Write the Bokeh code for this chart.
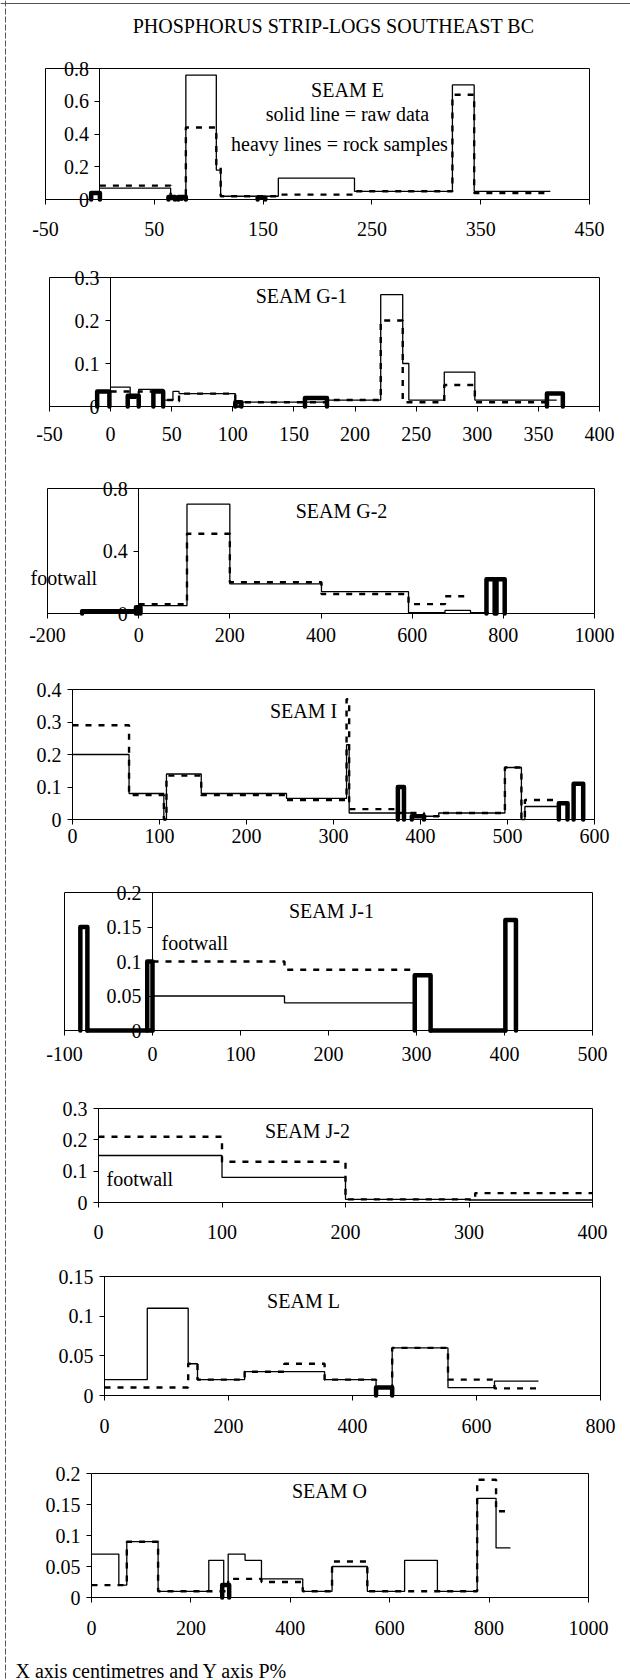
from bokeh.plotting import figure
from bokeh.models import (Range1d, FixedTicker, CustomJSTickFormatter, Label,
                          Span, LinearAxis)
from bokeh.embed import file_html
from bokeh.resources import INLINE

FONT = "Liberation Serif"

# ---------------- DATA ----------------
# step logs: edges (cm) and values (P%) ; dashed = adjusted log ; heavy = rock samples
E_raw_edges = [0, 65, 79, 107, 111, 164, 234, 324, 344, 414]
E_raw_vals = [0.07, 0.0, 0.76, 0.18, 0.02, 0.13, 0.05, 0.70, 0.05]
E_dash_edges = [0, 65, 79, 107, 111, 164, 234, 324, 344, 414]
E_dash_vals = [0.085, 0.0, 0.44, 0.2, 0.02, 0.03, 0.05, 0.64, 0.04]
E_rock_from = [-8, 63, 72, 145]
E_rock_to = [0, 69, 79, 152]
E_rock_p = [0.04, 0.015, 0.015, 0.01]

G1_raw_edges = [0, 16, 23, 43, 51, 56, 102, 107, 177, 221, 239, 244, 273, 298, 365]
G1_raw_vals = [0.045, 0.02, 0.04, 0.015, 0.035, 0.03, 0.0, 0.01, 0.015, 0.26, 0.10, 0.015, 0.08, 0.015]
G1_dash_edges = [0, 16, 23, 43, 51, 56, 102, 107, 177, 221, 239, 273, 298, 362]
G1_dash_vals = [0.035, 0.02, 0.035, 0.015, 0.012, 0.03, 0.0, 0.01, 0.015, 0.20, 0.01, 0.05, 0.01]
G1_rock_from = [-11, 14, 35, 102, 159, 357]
G1_rock_to = [-1, 23, 43, 107, 177, 370]
G1_rock_p = [0.035, 0.025, 0.035, 0.01, 0.02, 0.03]

G2_raw_edges = [0, 106, 200, 401, 592, 672, 728, 768]
G2_raw_vals = [0.05, 0.70, 0.19, 0.14, 0.005, 0.02, 0.005]
G2_dash_edges = [0, 106, 200, 401, 592, 672, 728]
G2_dash_vals = [0.06, 0.51, 0.2, 0.125, 0.06, 0.11]
G2_rock_from = [-124, -6, 763, 785]
G2_rock_to = [-2, 4, 781, 803]
G2_rock_p = [0.015, 0.04, 0.22, 0.22]

I_raw_edges = [0, 65, 105, 108, 148, 246, 315, 318, 391, 421, 497, 516, 520, 560]
I_raw_vals = [0.2, 0.08, 0.0, 0.14, 0.08, 0.065, 0.23, 0.02, 0.01, 0.02, 0.16, 0.0, 0.04]
I_dash_edges = [0, 65, 105, 108, 148, 246, 315, 318, 374, 404, 421, 497, 516, 520, 555]
I_dash_vals = [0.29, 0.075, 0.0, 0.135, 0.075, 0.06, 0.37, 0.032, 0.02, 0.01, 0.02, 0.16, 0.0, 0.06]
I_rock_from = [374, 390, 559, 576]
I_rock_to = [381, 404, 569, 587]
I_rock_p = [0.10, 0.01, 0.05, 0.11]

J1_raw_edges = [0, 150, 297]
J1_raw_vals = [0.05, 0.04]
J1_dash_edges = [0, 150, 297]
J1_dash_vals = [0.1, 0.088]
J1_rock_from = [-82, -74, -6, 298, 316, 401]
J1_rock_to = [-74, 0, 0, 316, 401, 413]
J1_rock_p = [0.15, 0.0, 0.10, 0.08, 0.0, 0.16]

J2_raw_edges = [0, 100, 200, 300, 400]
J2_raw_vals = [0.15, 0.08, 0.01, 0.008]
J2_dash_edges = [0, 100, 200, 305, 400]
J2_dash_vals = [0.21, 0.13, 0.01, 0.03]

L_raw_edges = [0, 69, 135, 150, 226, 355, 438, 464, 554, 629, 700]
L_raw_vals = [0.02, 0.11, 0.04, 0.02, 0.03, 0.02, 0.01, 0.06, 0.01, 0.018]
L_dash_edges = [0, 135, 150, 226, 290, 355, 438, 464, 554, 629, 700]
L_dash_vals = [0.01, 0.04, 0.02, 0.03, 0.04, 0.02, 0.01, 0.06, 0.02, 0.009]
L_rock_from = [438]
L_rock_to = [464]
L_rock_p = [0.01]

O_raw_edges = [0, 55, 71, 134, 236, 266, 275, 309, 342, 425, 484, 555, 630, 696, 776, 814, 843]
O_raw_vals = [0.07, 0.02, 0.09, 0.01, 0.06, 0.02, 0.07, 0.06, 0.03, 0.01, 0.05, 0.01, 0.06, 0.01, 0.16, 0.08]
O_dash_edges = [0, 71, 134, 275, 342, 425, 484, 555, 776, 814, 843]
O_dash_vals = [0.02, 0.09, 0.01, 0.03, 0.025, 0.01, 0.058, 0.01, 0.19, 0.139]
O_rock_from = [263]
O_rock_to = [277]
O_rock_p = [0.02]

# axis ticks
E_xticks = [-50, 50, 150, 250, 350, 450]
E_yticks = [0, 0.2, 0.4, 0.6, 0.8]
G1_xticks = [-50, 0, 50, 100, 150, 200, 250, 300, 350, 400]
G1_yticks = [0, 0.1, 0.2, 0.3]
G2_xticks = [-200, 0, 200, 400, 600, 800, 1000]
G2_yticks = [0, 0.4, 0.8]
I_xticks = [0, 100, 200, 300, 400, 500, 600]
I_yticks = [0, 0.1, 0.2, 0.3, 0.4]
J1_xticks = [-100, 0, 100, 200, 300, 400, 500]
J1_yticks = [0, 0.05, 0.1, 0.15, 0.2]
J2_xticks = [0, 100, 200, 300, 400]
J2_yticks = [0, 0.1, 0.2, 0.3]
L_xticks = [0, 200, 400, 600, 800]
L_yticks = [0, 0.05, 0.1, 0.15]
O_xticks = [0, 200, 400, 600, 800, 1000]
O_yticks = [0, 0.05, 0.1, 0.15, 0.2]

TITLE = "PHOSPHORUS STRIP-LOGS SOUTHEAST BC"
FOOTNOTE = "X axis centimetres and Y axis P%"

# ---------------- LAYOUT (page pixel geometry of each panel) ----------------
W, H = 630, 1680
panels = [
    dict(key="E", frame=(45, 589, 68, 199), xr=(-50, 450), ymax=0.8,
         xt=E_xticks, yt=E_yticks, so=17,
         raw=(E_raw_edges, E_raw_vals), dash=(E_dash_edges, E_dash_vals),
         rock=(E_rock_from, E_rock_to, E_rock_p),
         labels=[("SEAM E", 347, 89, "center"), ("solid line = raw data", 347, 113, "center"),
                 ("heavy lines = rock samples", 339, 143, "center")]),
    dict(key="G1", frame=(49, 599, 277, 406), xr=(-50, 400), ymax=0.3,
         xt=G1_xticks, yt=G1_yticks, so=15,
         raw=(G1_raw_edges, G1_raw_vals), dash=(G1_dash_edges, G1_dash_vals),
         rock=(G1_rock_from, G1_rock_to, G1_rock_p),
         labels=[("SEAM G-1", 301, 295, "center")]),
    dict(key="G2", frame=(47, 594, 488, 613), xr=(-200, 1000), ymax=0.8,
         xt=G2_xticks, yt=G2_yticks, so=9,
         raw=(G2_raw_edges, G2_raw_vals), dash=(G2_dash_edges, G2_dash_vals),
         rock=(G2_rock_from, G2_rock_to, G2_rock_p),
         labels=[("SEAM G-2", 341, 510, "center"), ("footwall", 30, 577, "left")]),
    dict(key="I", frame=(72, 594, 689, 819), xr=(0, 600), ymax=0.4,
         xt=I_xticks, yt=I_yticks, so=4,
         raw=(I_raw_edges, I_raw_vals), dash=(I_dash_edges, I_dash_vals),
         rock=(I_rock_from, I_rock_to, I_rock_p),
         labels=[("SEAM I", 303, 710, "center")]),
    dict(key="J1", frame=(64, 592, 892, 1030), xr=(-100, 500), ymax=0.2,
         xt=J1_xticks, yt=J1_yticks, so=11,
         raw=(J1_raw_edges, J1_raw_vals), dash=(J1_dash_edges, J1_dash_vals),
         rock=(J1_rock_from, J1_rock_to, J1_rock_p),
         labels=[("SEAM J-1", 331, 910, "center"), ("footwall", 161, 942, "left")]),
    dict(key="J2", frame=(98, 592, 1108, 1202), xr=(0, 400), ymax=0.3,
         xt=J2_xticks, yt=J2_yticks, so=17,
         raw=(J2_raw_edges, J2_raw_vals), dash=(J2_dash_edges, J2_dash_vals),
         rock=None,
         labels=[("SEAM J-2", 307, 1130, "center"), ("footwall", 106, 1178, "left")]),
    dict(key="L", frame=(104, 600, 1276, 1395), xr=(0, 800), ymax=0.15,
         xt=L_xticks, yt=L_yticks, so=18,
         raw=(L_raw_edges, L_raw_vals), dash=(L_dash_edges, L_dash_vals),
         rock=(L_rock_from, L_rock_to, L_rock_p),
         labels=[("SEAM L", 303, 1300, "center")]),
    dict(key="O", frame=(91, 588, 1473, 1597), xr=(0, 1000), ymax=0.2,
         xt=O_xticks, yt=O_yticks, so=18,
         raw=(O_raw_edges, O_raw_vals), dash=(O_dash_edges, O_dash_vals),
         rock=(O_rock_from, O_rock_to, O_rock_p),
         labels=[("SEAM O", 329, 1490, "center")]),
]

fmt_code = "return String(Math.round(tick*1000)/1000);"

# one page-sized figure; default ranges are page pixels (y downwards)
p = figure(width=W, height=H, x_range=Range1d(0, W), y_range=Range1d(H, 0),
           output_backend="svg", toolbar_location=None,
           x_axis_location=None, y_axis_location=None, min_border=0,
           min_border_left=0, min_border_right=0, min_border_top=0, min_border_bottom=0,
           background_fill_color="white", border_fill_color="white",
           outline_line_color=None)
p.grid.visible = False

extra_x, extra_y = {}, {}
for c in panels:
    fl, fr, ft, fb = c["frame"]
    x0, x1 = c["xr"]
    ymax = c["ymax"]
    sx = (x1 - x0) / (fr - fl)
    sy = ymax / (fb - ft)
    extra_x[c["key"] + "_x"] = Range1d(x0 - fl * sx, x1 + (W - fr) * sx)
    extra_y[c["key"] + "_y"] = Range1d(-(H - fb) * sy, ymax + ft * sy)
p.extra_x_ranges = extra_x
p.extra_y_ranges = extra_y

for c in panels:
    xn, yn = c["key"] + "_x", c["key"] + "_y"
    x0, x1 = c["xr"]
    ymax = c["ymax"]
    rn = dict(x_range_name=xn, y_range_name=yn)

    # plot-area border
    p.quad(left=[x0], right=[x1], bottom=[0], top=[ymax], fill_color=None,
           line_color="black", line_width=1, **rn)

    common = dict(axis_line_color="black", axis_line_width=1,
                  major_tick_line_color="black", major_tick_in=0, major_tick_out=5,
                  minor_tick_line_color=None,
                  major_label_text_font=FONT, major_label_text_font_size="20px",
                  major_label_text_color="black",
                  formatter=CustomJSTickFormatter(code=fmt_code), **rn)
    xa = LinearAxis(ticker=FixedTicker(ticks=c["xt"]), fixed_location=0, bounds=(x0, x1),
                    major_label_standoff=c["so"], **common)
    ya = LinearAxis(ticker=FixedTicker(ticks=c["yt"]), fixed_location=0, bounds=(0, ymax),
                    major_label_standoff=6, **common)
    p.add_layout(xa, "below")
    p.add_layout(ya, "left")

    # raw data (solid) and adjusted (dashed) step logs
    re, rv = c["raw"]
    p.step(x=re, y=list(rv) + [rv[-1]], mode="after", line_color="black", line_width=1.3, **rn)
    de, dv = c["dash"]
    p.step(x=de, y=list(dv) + [dv[-1]], mode="after", line_color="black", line_width=2.4,
           line_dash="6 7", **rn)
    # rock samples (heavy lines)
    if c["rock"] is not None:
        a, b, h = c["rock"]
        xs = [[s, s, e, e] for s, e in zip(a, b)]
        ys = [[0, v, v, 0] for v in h]
        p.multi_line(xs=xs, ys=ys, line_color="black", line_width=4.5,
                     line_join="round", line_cap="round", **rn)

    for text, px, py, align in c["labels"]:
        p.add_layout(Label(x=px, y=py, text=text, text_font=FONT, text_font_size="20px",
                           text_color="black", text_align=align, text_baseline="middle"))

# page title, footnote and sheet frame lines
p.add_layout(Label(x=333, y=25, text=TITLE, text_font=FONT, text_font_size="20px",
                   text_color="black", text_align="center", text_baseline="middle"))
p.add_layout(Label(x=15, y=1670, text=FOOTNOTE, text_font=FONT, text_font_size="20px",
                   text_color="black", text_align="left", text_baseline="middle"))
p.add_layout(Span(location=5, dimension="height", line_color="#555555", line_width=1,
                  line_dash="6 2"))
p.add_layout(Span(location=3, dimension="width", line_color="#555555", line_width=1))

open("out.html", "w").write(file_html(p, INLINE))
